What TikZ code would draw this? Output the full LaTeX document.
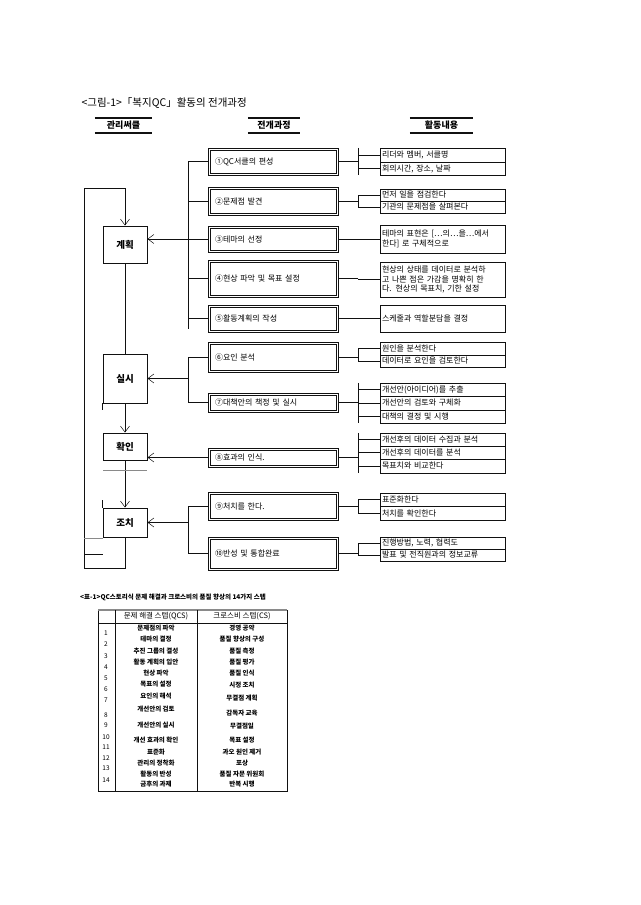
\documentclass[tikz,border=0pt]{standalone}
\usepackage{fontspec}
\setmainfont{Noto Sans CJK KR}
\usepackage{tikz}
\usetikzlibrary{arrows.meta,calc,positioning}
\definecolor{ink}{HTML}{111111}
\definecolor{rule}{HTML}{8A8A8A}
\tikzset{
  cyclebox/.style={draw=ink,line width=.9pt,minimum width=44pt,inner sep=0pt,font=\fontsize{9.5}{10}\selectfont\bfseries},
  stepbox/.style={draw=ink,line width=.6pt,text width=116pt,inner xsep=7pt,inner ysep=0pt,align=left,font=\fontsize{8}{9}\selectfont},
  rowbox/.style={draw=ink,line width=.5pt,text width=121pt,inner xsep=2pt,inner ysep=0pt,align=left,font=\fontsize{8}{9.8}\selectfont},
  head/.style={inner sep=0pt,minimum height=15pt,font=\fontsize{9}{10}\selectfont\bfseries},
  headrule/.style={draw=ink,line width=1.5pt},
  link/.style={draw=ink,line width=.5pt},
  feed/.style={link,-{Straight Barb[length=6pt,width=9pt]}},
  cell/.style={inner sep=0pt,font=\fontsize{6.5}{7}\selectfont\bfseries},
  num/.style={inner sep=0pt,font=\fontsize{6.5}{7}\selectfont},
  grid/.style={draw=ink,line width=.6pt}
}
\begin{document}
\begin{tikzpicture}[x=1pt,y=-1pt]
  \useasboundingbox (0,0) rectangle (640,905);
  \node[anchor=west,font=\fontsize{10.5}{12}\selectfont] (title) at (78,103) {<그림-1>「복지QC」활동의 전개과정};
  \node[head,minimum width=57pt] (hcyc) at (123.5,125.5) {관리써클};
  \node[head,minimum width=52pt] (hstep) at (274,125.5) {전개과정};
  \node[head,minimum width=63pt] (hact) at (441.5,125.5) {활동내용};
  \foreach \h in {hcyc,hstep,hact}
    \draw[headrule] (\h.north west) -- (\h.north east) (\h.south west) -- (\h.south east);

  \node[cyclebox,minimum height=37pt] (plan) at (125,244.5) {계획};
  \node[cyclebox,minimum height=49pt] (do) at (125,378.5) {실시};
  \node[cyclebox,minimum height=27pt] (chk) at (125,446.5) {확인};
  \node[cyclebox,minimum height=29pt] (act) at (125,522.5) {조치};

  \foreach \n/\y/\hh/\txt in {1/161.5/27/{①QC서클의 편성},2/201/28/{②문제점 발견},3/239/26/{③테마의 선정},
      4/278.5/37/{④현상 파악 및 목표 설정},5/318.5/27/{⑤활동계획의 작성},6/357/30/{⑥요인 분석},
      7/402.5/19/{⑦대책안의 책정 및 실시},8/457.5/19/{⑧효과의 인식.},9/506/28/{⑨처치를 한다.},
      10/553.5/33/{⑩반성 및 통합완료}}{
    \node[stepbox,minimum height=\hh pt] (s\n) at (273,\y) {\txt};
    \draw[link] ($(s\n.north west)+(2.2,2.2)$) rectangle ($(s\n.south east)+(-2.2,-2.2)$);
  }

  \foreach \k/\ya/\yb/\txt in {1a/148/162/{리더와 멤버, 서클명},1b/162/175/{회의시간, 장소, 날짜},
      2a/189/201/{먼저 일을 점검한다},2b/201/213/{기관의 문제점을 살펴본다},
      3a/225/253/{테마의 표현은 […의…을…에서\\한다] 로 구체적으로},
      4a/262/297/{현상의 상태를 데이터로 분석하\\고 나쁜 점은 가감을 명확히 한\\다. 현상의 목표치, 기한 설정},
      5a/305/332/{스케줄과 역할분담을 결정},
      6a/342/355/{원인을 분석한다},6b/355/367/{데이터로 요인을 검토한다},
      7a/383/396/{개선안(아이디어)를 추출},7b/396/410/{개선안의 검토와 구체화},7c/410/423/{대책의 결정 및 시행},
      8a/433/446/{개선후의 데이터 수집과 분석},8b/446/459/{개선후의 데이터를 분석},8c/459/473/{목표치와 비교한다},
      9a/493/506/{표준화한다},9b/506/520/{처치를 확인한다},
      10a/537/549/{진행방법, 노력, 협력도},10b/549/561/{발표 및 전직원과의 정보교류}}
    \node[rowbox,minimum height={(\yb-\ya)*1pt}] (r\k) at (442.5,{(\ya+\yb)/2}) {\txt};

  \foreach \s/\rows in {1/{1a,1b},2/{2a,2b},3/{3a},4/{4a},5/{5a},6/{6a,6b},7/{7a,7b,7c},8/{8a,8b,8c},9/{9a,9b},10/{10a,10b}}{
    \draw[link] (s\s.east) -- ++(20,0) coordinate (j\s);
    \foreach \k in \rows
      \draw[link] (j\s) |- (r\k.west);
  }
  \foreach \s/\u/\v in {1/1a/1b,7/7a/7c,8/8a/8c}
    \draw[link] (j\s|-r\u.north) -- (j\s|-r\v.south);

  \draw[link] (s1.west) -- ++(-19,0) coordinate (t1) -- ($(t1|-s5)+(0,10)$);
  \foreach \s in {2,4,5} \draw[link] (s\s.west) -- (t1|-s\s);
  \draw[feed] (s3.west) -- (plan.east|-s3);
  \draw[link] (s6.west) -- ++(-19,0) coordinate (t6) -- (t6|-s7) -- (s7.west);
  \draw[feed] (t6|-do) -- (do.east);
  \draw[feed] (s8.west) -- (chk.east|-s8);
  \draw[link] (s9.west) -- ++(-19,0) coordinate (t9) -- (t9|-s10) -- (s10.west);
  \draw[feed] (t9|-act) -- (act.east);

  \coordinate (loopB) at (84,568);
  \coordinate (loopT) at (84,188);
  \draw[link] (plan) -- (do);
  \draw[feed] (do) -- (chk);
  \draw[feed] (chk) -- (act);
  \draw[feed] (act.south) |- (loopB) -- (loopT) -| (plan.north);
  \draw[rule,line width=1pt] (103,470) -- (147,470);
  \draw[rule,line width=1pt] (84,538) -- (103,538);
  \draw[link] (84,554) -- (103,554);
  \draw[ink,line width=1.2pt] (do.south west) -- ++(0,7);
  \draw[ink,line width=1.2pt] (act.north west) -- ++(0,-8);

  \node[cell,anchor=west] (cap) at (80,597) {<표-1>QC스토리식 문제 해결과 크로스비의 품질 향상의 14가지 스텝};
  \draw[grid] (98,610) rectangle (287,791);
  \draw[rule,line width=1.2pt] (98,610) -- (287,610);
  \draw[grid] (98,623) -- (287,623) (115,610) -- (115,791) (197,610) -- (197,791);
  \node[font=\fontsize{7.5}{8}\selectfont] (hqcs) at (156,616.5) {문제 해결 스텝(QCS)};
  \node[font=\fontsize{7.5}{8}\selectfont] (hcs) at (242,616.5) {크로스비 스텝(CS)};
  \foreach \i/\ya/\yb/\q/\c in {1/628/628/문제점의 파악/경영 공약,2/639/639/테마의 결정/품질 향상의 구성,
      3/651/651/추진 그룹의 결성/품질 측정,4/662/662/활동 계획의 입안/품질 평가,5/673/673/현상 파악/품질 인식,
      6/684/685/목표의 설정/시정 조치,7/696/698/요인의 해석/무결점 계획,8/709/713/개선안의 검토/감독자 교육,
      9/725/726/개선안의 실시/무결점일,10/740/740/개선 효과의 확인/목표 설정,11/752/752/표준화/과오 원인 제거,
      12/763/763/관리의 정착화/포상,13/774/774/활동의 반성/품질 자문 위원회,14/784/784/금후의 과제/반복 시행}{
    \node[cell] (q\i) at (156,\ya) {\q};
    \node[cell] (c\i) at (242,\yb) {\c};
  }
  \foreach \i/\y in {1/633,2/644,3/656,4/667,5/678,6/689,7/700,8/715,9/725,10/737,11/747,12/758,13/768,14/780}
    \node[num] (n\i) at (106,\y) {\i};
\end{tikzpicture}
\end{document}
